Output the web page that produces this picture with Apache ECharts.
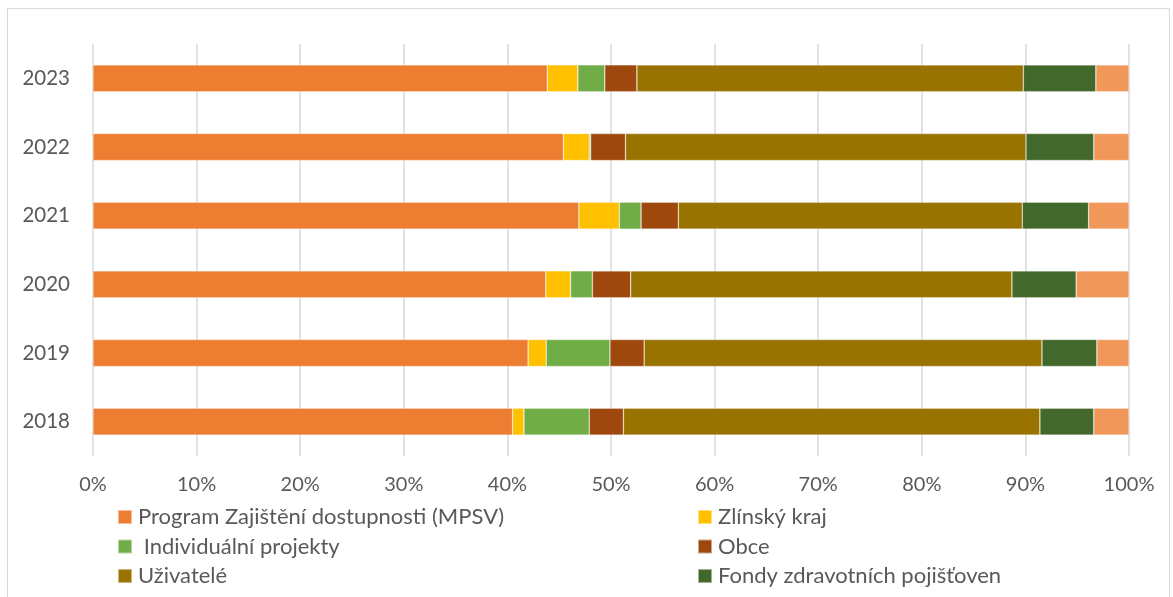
<!DOCTYPE html>
<html>
<head>
<meta charset="utf-8">
<script src="https://cdn.jsdelivr.net/npm/echarts@6/dist/echarts.min.js"></script>
<style>
html,body{margin:0;padding:0;background:#fff;}
#chart{width:1173px;height:597px;}
</style>
</head>
<body>
<div id="chart"></div>
<script>
var years = ['2018', '2019', '2020', '2021', '2022', '2023'];
var xTicks = [0, 10, 20, 30, 40, 50, 60, 70, 80, 90, 100];

var programMPSV   = [40.5, 42.0, 43.7, 46.9, 45.4, 43.85];
var zlinskyKraj   = [1.1, 1.75, 2.4, 3.9, 2.5, 2.95];
var individualni  = [6.3, 6.15, 2.1, 2.1, 0.14, 2.6];
var obce          = [3.3, 3.3, 3.7, 3.6, 3.36, 3.1];
var uzivatele     = [40.2, 38.4, 36.8, 33.2, 38.66, 37.3];
var fondyZP       = [5.2, 5.3, 6.2, 6.4, 6.54, 7.0];
var ostatni       = [3.4, 3.1, 5.1, 3.9, 3.4, 3.2];

var seriesNames = ['Program Zajištění dostupnosti (MPSV)', 'Zlínský kraj', ' Individuální projekty', 'Obce', 'Uživatelé', 'Fondy zdravotních pojišťoven', 'Ostatní'];
var seriesData = [programMPSV, zlinskyKraj, individualni, obce, uzivatele, fondyZP, ostatni];
var colors = ['#ED7D31', '#FFC000', '#70AD47', '#9E480E', '#997300', '#43682B', '#F1975A'];

var FONT = 'Lato';
var TXT = '#595959';

var chart = echarts.init(document.getElementById('chart'), null, {renderer: 'canvas'});

var series = seriesNames.map(function (n, i) {
  return {
    name: n,
    type: 'bar',
    stack: 'total',
    barWidth: 27,
    data: seriesData[i],
    itemStyle: {color: colors[i], borderColor: 'rgba(255,255,255,0.5)', borderWidth: 0.6},
    emphasis: {disabled: true}
  };
});

var legendPos = [
  {left: 117, top: 506},
  {left: 697, top: 506},
  {left: 117, top: 535.5},
  {left: 697, top: 535.5},
  {left: 117, top: 565},
  {left: 697, top: 565}
];
var legends = legendPos.map(function (p, i) {
  return {
    data: [seriesNames[i]],
    left: p.left,
    top: p.top,
    padding: 0,
    itemWidth: 14,
    itemHeight: 14,
    itemGap: 0,
    icon: 'rect',
    selectedMode: false,
    textStyle: {fontFamily: FONT, fontSize: 22, color: TXT, padding: [0, 0, 0, 1]}
  };
});

chart.setOption({
  animation: false,
  backgroundColor: '#fff',
  textStyle: {fontFamily: FONT},
  graphic: [{
    type: 'rect',
    shape: {x: 7.5, y: 8.5, width: 1162, height: 700},
    style: {fill: 'none', stroke: '#D9D9D9', lineWidth: 1},
    silent: true,
    z: -1
  }],
  legend: legends,
  grid: {left: 93, right: 44, top: 44, bottom: 141, containLabel: false},
  xAxis: {
    type: 'value',
    min: xTicks[0],
    max: xTicks[xTicks.length - 1],
    interval: 10,
    axisLine: {show: false},
    axisTick: {show: false},
    splitLine: {show: true, lineStyle: {color: '#D9D9D9', width: 1.5}},
    axisLabel: {
      formatter: '{value}%',
      fontFamily: FONT, fontSize: 20, color: TXT, margin: 19
    }
  },
  yAxis: {
    type: 'category',
    data: years,
    axisLine: {show: false},
    axisTick: {show: false},
    axisLabel: {fontFamily: FONT, fontSize: 20.5, color: TXT, margin: 23}
  },
  series: series
});
</script>
</body>
</html>
